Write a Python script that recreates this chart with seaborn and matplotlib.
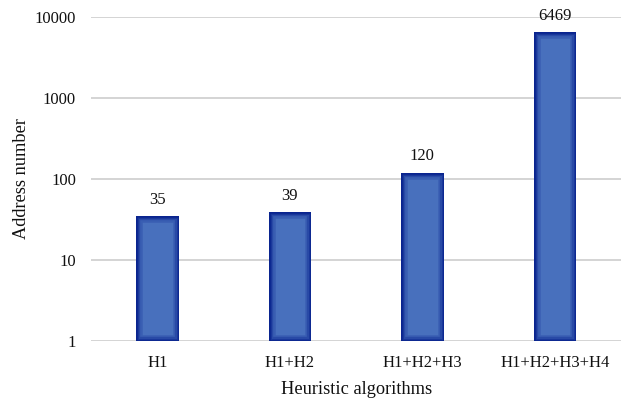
import matplotlib
matplotlib.use("Agg")
import matplotlib.pyplot as plt
import seaborn as sns
import pandas as pd
from matplotlib.patches import Rectangle

categories = ["H1", "H1+H2", "H1+H2+H3", "H1+H2+H3+H4"]
addresses = [35, 39, 120, 6469]
y_ticks = [1, 10, 100, 1000, 10000]
y_tick_labels = ["1", "10", "100", "1000", "10000"]

df = pd.DataFrame({"algorithm": categories, "addresses": addresses})

sns.set_theme(style="white")
plt.rcParams["font.family"] = ["Liberation Serif", "DejaVu Serif"]

fig = plt.figure(figsize=(6.21, 4.04), dpi=100)
ax = fig.add_axes([0.147, 0.156, 0.853, 0.802])
ax.set_yscale("log")

sns.barplot(data=df, x="algorithm", y="addresses", ax=ax, width=0.32,
            color="#4a6cba", saturation=1, edgecolor="none", zorder=3)

base = y_ticks[0]
# bars rise from the lowest decade; shade each darker toward its border
for patch, v in zip(list(ax.patches), addresses):
    patch.set_y(base)
    patch.set_height(v - base)
    patch.set_facecolor("#4870bd")
    for lw, a in [(9, 0.2), (6, 0.28), (3.5, 0.38), (1.8, 0.6)]:
        r = Rectangle(patch.get_xy(), patch.get_width(), patch.get_height(),
                      facecolor="none", edgecolor="#001888", linewidth=lw,
                      alpha=a, zorder=4)
        ax.add_patch(r)
        r.set_clip_path(patch)

for i, v in enumerate(addresses):
    ax.annotate(str(v), (i, v), xytext=(0, 6), textcoords="offset points",
                ha="center", va="bottom", fontsize=12, color="#111111",
                zorder=5)

ax.set_ylim(1, 10000)
ax.set_xlim(-0.5, 3.5)
ax.set_yticks(y_ticks)
ax.set_yticklabels(y_tick_labels)
ax.minorticks_off()
ax.yaxis.grid(True, color="#d4d4d4", linewidth=1.4, zorder=0)
ax.set_axisbelow(True)
for s in ax.spines.values():
    s.set_visible(False)
ax.tick_params(axis="both", length=0, labelsize=12, colors="#111111")
ax.tick_params(axis="y", pad=11)
ax.tick_params(axis="x", pad=10)

ax.set_xlabel("Heuristic algorithms", fontsize=13.2, color="#111111", labelpad=7)
ax.set_ylabel("Address number", fontsize=13.2, color="#111111", labelpad=3)

fig.savefig("out.png", dpi=100)
